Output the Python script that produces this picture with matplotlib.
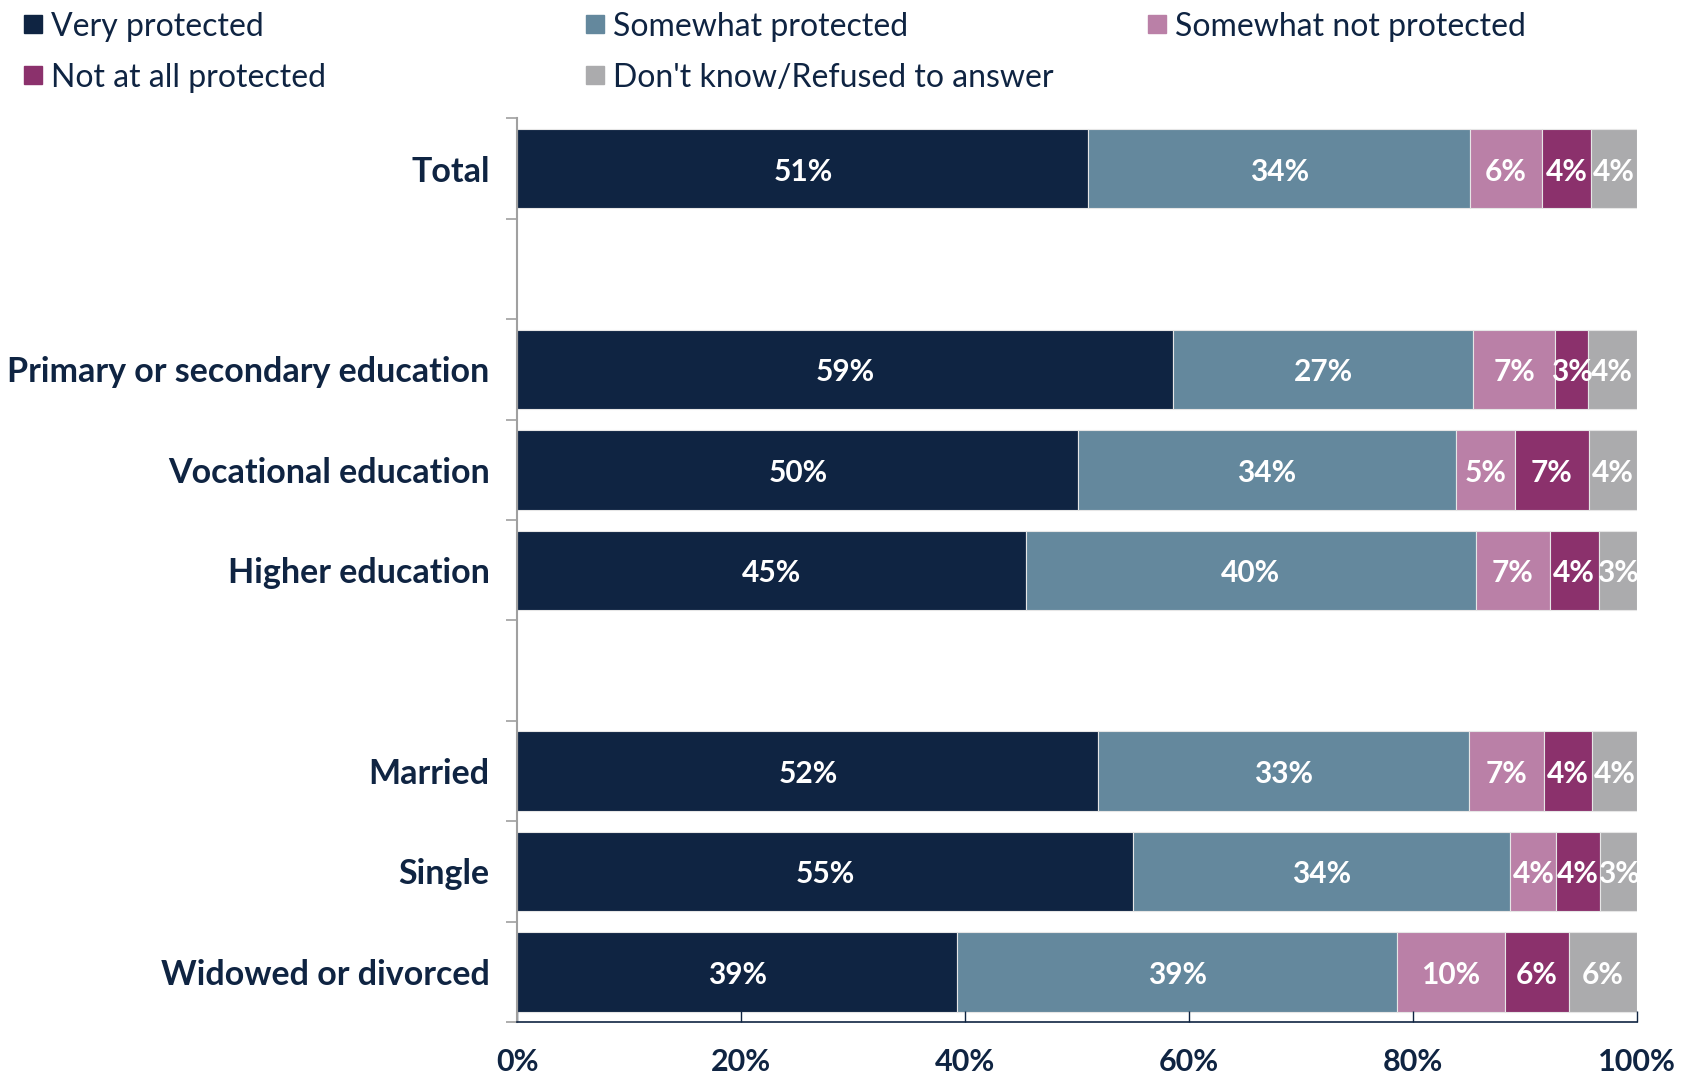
import matplotlib.pyplot as plt
from matplotlib.lines import Line2D
from matplotlib.ticker import FixedLocator, PercentFormatter

plt.rcParams['font.family'] = ['Lato', 'DejaVu Sans']

# groups of categories, a blank slot is left between groups
groups = [
    ["Total"],
    ["Primary or secondary education", "Vocational education", "Higher education"],
    ["Married", "Single", "Widowed or divorced"],
]

series = ["Very protected", "Somewhat protected", "Somewhat not protected",
          "Not at all protected", "Don't know/Refused to answer"]
colors = ["#0F2442", "#64889D", "#BA80A7", "#8B316C", "#ABABAD"]

# shares in %, per category in the order above
very = [51.0, 58.6, 50.1, 45.4, 51.9, 55.0, 39.3]
somewhat = [34.1, 26.8, 33.7, 40.2, 33.1, 33.7, 39.3]
somewhat_not = [6.4, 7.3, 5.3, 6.6, 6.7, 4.1, 9.6]
not_at_all = [4.4, 2.9, 6.6, 4.4, 4.3, 3.9, 5.7]
dont_know = [4.1, 4.4, 4.3, 3.4, 4.0, 3.3, 6.1]
values = [very, somewhat, somewhat_not, not_at_all, dont_know]

text_col = "#0F2442"

# slot positions
labels, ypos = [], []
slot = 0
for g in groups:
    for name in g:
        labels.append(name)
        ypos.append(slot)
        slot += 1
    slot += 1
n_slots = slot - 1

fig = plt.figure(figsize=(16.91, 10.77), dpi=100)
ax = fig.add_axes([0.306, 0.051, 0.662, 0.839])

left = [0.0] * len(labels)
for vals, col, name in zip(values, colors, series):
    ax.barh(ypos, vals, left=left, height=0.79, color=col,
            edgecolor="#E6E6E6", linewidth=0.8, label=name)
    for y, l, v in zip(ypos, left, vals):
        ax.text(l + v / 2, y + 0.03, f"{v:.0f}%", ha="center", va="center",
                color="white", fontsize=21.5, fontweight="bold")
    left = [a + b for a, b in zip(left, vals)]

ax.set_xlim(0, 100)
ax.set_ylim(n_slots - 0.5, -0.5)

ax.set_yticks(ypos)
ax.set_yticklabels(labels, fontsize=24.5, fontweight="bold", color=text_col)
ax.tick_params(axis="y", which="major", length=0, pad=20)
ax.yaxis.set_minor_locator(FixedLocator([i - 0.5 for i in range(n_slots + 1)]))
ax.tick_params(axis="y", which="minor", length=8, color="#A0A0A0", width=1.2)

ax.set_xticks(range(0, 101, 20))
ax.xaxis.set_major_formatter(PercentFormatter(decimals=0))
ax.tick_params(axis="x", direction="in", length=8, color=text_col, width=1,
               labelsize=22, labelcolor=text_col, pad=19)
for t in ax.get_xticklabels():
    t.set_fontweight("bold")

for s in ["top", "right"]:
    ax.spines[s].set_visible(False)
ax.spines["left"].set_color("#A0A0A0")
ax.spines["left"].set_linewidth(1.5)
ax.spines["bottom"].set_color(text_col)
ax.spines["bottom"].set_linewidth(1.2)

# legend: three equally spaced columns, filled row by row
handles = [Line2D([], [], marker="s", linestyle="none", markersize=13,
                  color=c) for c in colors]
ncol = 3
for c in range(ncol):
    idx = list(range(c, len(series), ncol))
    fig.legend([handles[i] for i in idx], [series[i] for i in idx],
               loc="upper left", bbox_to_anchor=(-0.003 + c * 0.3323, 1.016),
               frameon=False, fontsize=23, labelcolor=text_col,
               handlelength=0.6, handletextpad=0.25, labelspacing=0.66)

fig.savefig("out.png", dpi=100)
